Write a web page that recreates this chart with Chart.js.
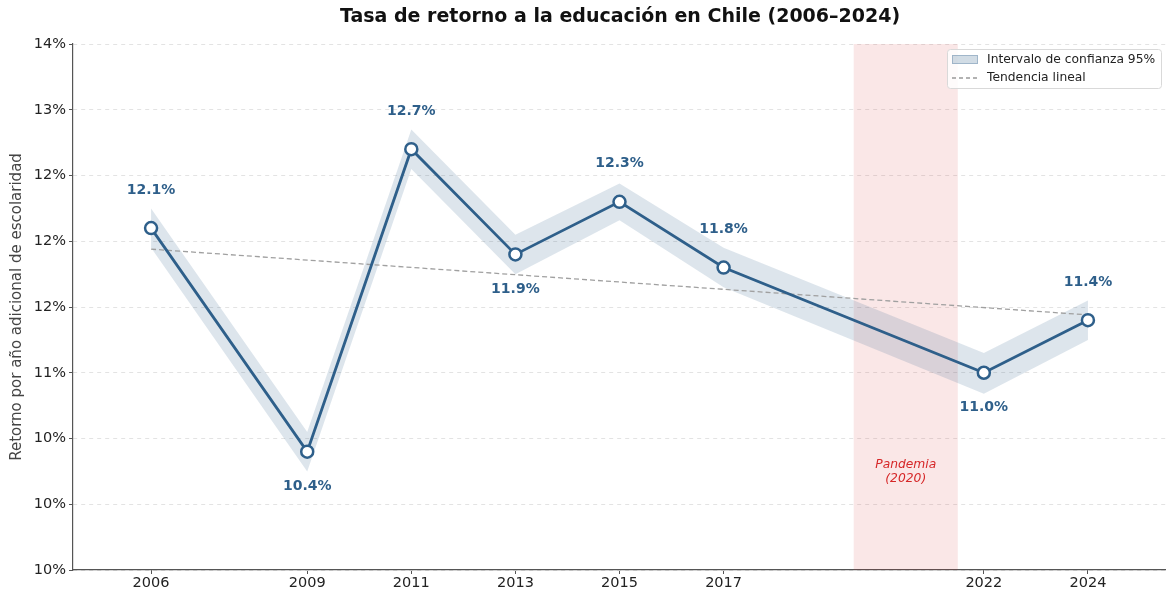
<!DOCTYPE html>
<html><head><meta charset="utf-8">
<script src="https://cdn.jsdelivr.net/npm/chart.js@4.4.1/dist/chart.umd.min.js"></script>
<style>html,body{margin:0;padding:0;background:#fff;}#wrap{width:1166px;height:597px;}</style>
</head><body><div id="wrap"><canvas id="c" width="1166" height="597"></canvas></div>
<script>
const years = [2006, 2009, 2011, 2013, 2015, 2017, 2022, 2024];
const retorno = [12.1, 10.4, 12.7, 11.9, 12.3, 11.8, 11.0, 11.4];
const ciUpper = [12.25, 10.55, 12.85, 12.05, 12.44, 11.95, 11.15, 11.55];
const ciLower = [11.95, 10.25, 12.55, 11.75, 12.16, 11.65, 10.84, 11.25];
const trendYears = [2006, 2024];
const trendValues = [11.94, 11.44];
const labelAbove = [true, false, true, false, true, true, false, true];
const yTickLabels = ['10%', '10%', '10%', '11%', '12%', '12%', '12%', '13%', '14%'];
const pandemic = {from: 2019.5, to: 2021.5, label: ['Pandemia', '(2020)'], labelX: 2020.5, labelY: 10.25};

const FONT = "'DejaVu Sans', sans-serif";
const BLUE = '#2e5f8a';

const pts = (xs, ys) => xs.map((x, i) => ({x: x, y: ys[i]}));

const bgPlugin = {
  id: 'bg',
  beforeDatasetsDraw(chart) {
    const {ctx, chartArea, scales} = chart;
    const x0 = scales.x.getPixelForValue(pandemic.from), x1 = scales.x.getPixelForValue(pandemic.to);
    ctx.save();
    ctx.fillStyle = 'rgba(214,39,40,0.11)';
    ctx.fillRect(x0, chartArea.top, x1 - x0, chartArea.bottom - chartArea.top);
    ctx.fillStyle = '#d62728';
    ctx.font = "italic 12.3px " + FONT;
    ctx.textAlign = 'center'; ctx.textBaseline = 'middle';
    const cx = scales.x.getPixelForValue(pandemic.labelX), cy = scales.y.getPixelForValue(pandemic.labelY);
    ctx.fillText(pandemic.label[0], cx, cy - 6.5);
    ctx.fillText(pandemic.label[1], cx, cy + 7);
    ctx.restore();
  },
  afterDraw(chart) {
    const {ctx, scales} = chart;
    ctx.save();
    // title
    ctx.fillStyle = '#111';
    ctx.font = "bold 19px " + FONT;
    ctx.textAlign = 'center'; ctx.textBaseline = 'middle';
    ctx.fillText('Tasa de retorno a la educación en Chile (2006–2024)', 620, 17);
    // data labels
    ctx.font = "bold 14px " + FONT;
    ctx.fillStyle = BLUE;
    years.forEach((yr, i) => {
      const px = scales.x.getPixelForValue(yr), py = scales.y.getPixelForValue(retorno[i]);
      ctx.fillText(retorno[i].toFixed(1) + '%', px, labelAbove[i] ? py - 38 : py + 35);
    });
    // legend
    const lx = 947.5, ly = 49.5, lw = 214, lh = 39;
    ctx.fillStyle = 'rgba(255,255,255,0.85)';
    ctx.strokeStyle = '#d9d9d9'; ctx.lineWidth = 1;
    ctx.beginPath(); ctx.roundRect ? ctx.roundRect(lx, ly, lw, lh, 3) : ctx.rect(lx, ly, lw, lh); ctx.fill(); ctx.stroke();
    ctx.fillStyle = 'rgba(46,95,138,0.22)';
    ctx.strokeStyle = 'rgba(46,95,138,0.3)';
    ctx.fillRect(952, 55, 26, 9); ctx.strokeRect(952.5, 55.5, 25, 8);
    ctx.strokeStyle = '#999'; ctx.lineWidth = 1.3; ctx.setLineDash([4, 3]);
    ctx.beginPath(); ctx.moveTo(952, 78); ctx.lineTo(978, 78); ctx.stroke();
    ctx.setLineDash([]);
    ctx.fillStyle = '#222'; ctx.font = "12.3px " + FONT; ctx.textAlign = 'left';
    ctx.fillText('Intervalo de confianza 95%', 987, 60);
    ctx.fillText('Tendencia lineal', 987, 78);
    ctx.restore();
  }
};

new Chart(document.getElementById('c'), {
  type: 'line',
  data: {
    datasets: [
      {label: 'IC sup', data: pts(years, ciUpper), borderWidth: 0, pointRadius: 0, fill: '+1', backgroundColor: 'rgba(46,95,138,0.16)', tension: 0, order: 3},
      {label: 'IC inf', data: pts(years, ciLower), borderWidth: 0, pointRadius: 0, fill: false, tension: 0, order: 3},
      {label: 'Tendencia lineal', data: pts(trendYears, trendValues), borderColor: '#a0a0a0', borderWidth: 1.3, borderDash: [5, 3], pointRadius: 0, fill: false, order: 2},
      {label: 'Retorno', data: pts(years, retorno), borderColor: BLUE, borderWidth: 2.8, pointRadius: 6, pointBackgroundColor: '#fff', pointBorderColor: BLUE, pointBorderWidth: 2.5, fill: false, tension: 0, order: 1}
    ]
  },
  options: {
    responsive: false, animation: false, devicePixelRatio: 1,
    layout: {autoPadding: false, padding: {top: 44, right: 0, left: 0, bottom: 0}},
    plugins: {legend: {display: false}, tooltip: {enabled: false}, title: {display: false}},
    scales: {
      x: {
        type: 'linear', min: 2004.5, max: 2025.5,
        afterBuildTicks: s => { s.ticks = years.map(v => ({value: v})); },
        afterFit: s => { s.height = 27; s.paddingRight = 0; s.paddingLeft = 0; },
        ticks: {callback: v => String(v), color: '#222', font: {family: FONT, size: 14.5}, padding: 1, maxRotation: 0, autoSkip: false},
        grid: {drawOnChartArea: false, drawTicks: true, tickLength: 4, tickColor: '#555'},
        border: {color: '#555', width: 1.2}
      },
      y: {
        min: 9.5, max: 13.5,
        afterBuildTicks: s => { s.ticks = yTickLabels.map((t, i) => ({value: 9.5 + 0.5 * i})); },
        afterFit: s => { s.width = 73; },
        ticks: {callback: (v, i) => yTickLabels[i], color: '#222', font: {family: FONT, size: 14.5}, padding: 3},
        grid: {color: '#e3e3e3', tickBorderDash: [], tickColor: '#555', tickLength: 4, lineWidth: 1},
        border: {color: '#555', width: 1.2, dash: [4, 4]},
        title: {display: true, text: 'Retorno por año adicional de escolaridad', color: '#444', font: {family: FONT, size: 15}, padding: {top: 8, bottom: 2}}
      }
    }
  },
  plugins: [bgPlugin]
});
</script></body></html>
